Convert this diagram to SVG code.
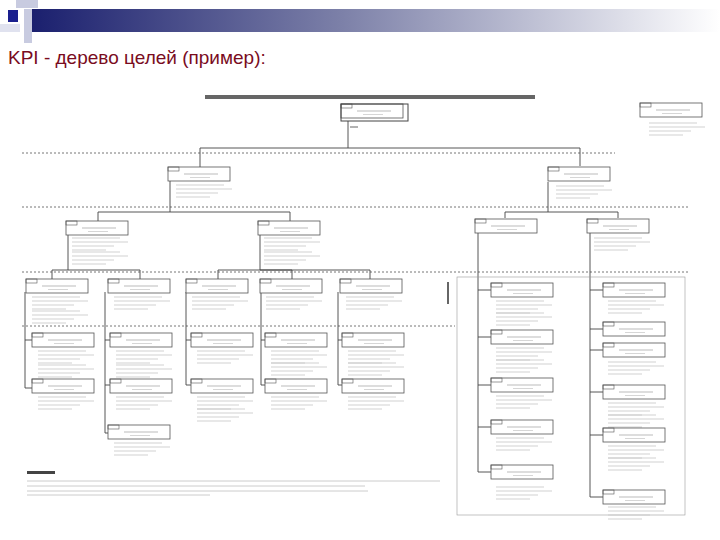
<svg xmlns="http://www.w3.org/2000/svg" width="720" height="540" viewBox="0 0 720 540">
<defs>
<linearGradient id="hb" x1="0" x2="1" y1="0" y2="0">
<stop offset="0" stop-color="#1a1f6e"/><stop offset="0.45" stop-color="#7c80a8"/><stop offset="1" stop-color="#ffffff"/>
</linearGradient>
<g id="n"><rect x="0" y="0" width="62" height="14" fill="#fff" stroke="#555" stroke-width="0.8"/><rect x="0" y="0" width="11" height="4" fill="none" stroke="#555" stroke-width="0.6"/><line x1="16" y1="7" x2="50" y2="7" stroke="#bbb" stroke-width="1"/><line x1="22" y1="10.5" x2="42" y2="10.5" stroke="#ccc" stroke-width="0.8"/></g>
<g id="t"><line x1="2" y1="0" x2="50" y2="0" stroke="#ccc" stroke-width="0.9"/><line x1="2" y1="4" x2="58" y2="4" stroke="#ccc" stroke-width="0.9"/><line x1="2" y1="8" x2="44" y2="8" stroke="#ccc" stroke-width="0.9"/><line x1="2" y1="12" x2="36" y2="12" stroke="#ccc" stroke-width="0.9"/></g>
</defs>
<style>.c{fill:none;stroke:#444;stroke-width:0.9}.d{stroke:#777;stroke-width:1;stroke-dasharray:2 2}.f{font-family:"Liberation Sans",Arial,sans-serif}</style>
<rect width="720" height="540" fill="#fff"/>
<g id="header">
<rect x="30" y="9" width="690" height="23" fill="url(#hb)"/>
<rect x="16" y="0" width="22" height="8" fill="#c8cbe0"/>
<rect x="24" y="9" width="8" height="34" fill="#c8cbe0"/>
<rect x="8" y="10" width="10" height="12" fill="#1a1f8e"/>
<rect x="0" y="24" width="20" height="8" fill="#e0e2ef"/>
</g>
<text class="f" x="8" y="64" font-size="19" fill="#7a0c1e">KPI - дерево целей (пример):</text>
<g id="diagram-title"><rect x="205" y="95" width="330" height="4" fill="#666"/></g>
<g id="separators">
<line class="d" x1="22" y1="153" x2="615" y2="153"/>
<line class="d" x1="22" y1="207" x2="690" y2="207"/>
<line class="d" x1="22" y1="272" x2="690" y2="272"/>
<line class="d" x1="22" y1="326" x2="455" y2="326"/>
</g>
<g id="connectors" class="c">
<path d="M348 121V148H200V167M348 148H580V166"/>
<path d="M170 180V212H98V221M170 212H290V221"/>
<path d="M68 234V270H52V279M68 270H140V279"/>
<path d="M260 234V270H218V279M260 270H292V279M260 270H370V279"/>
<path d="M548 182V212H505V218M548 212H618V218"/>
<path d="M25 292V388H32M25 340H32"/>
<path d="M105 292V433H108M105 340H110M105 385H110"/>
<path d="M186 292V385H191M186 340H191"/>
<path d="M261 292V385H265M261 340H265"/>
<path d="M338 292V385H342M338 340H342"/>
<path d="M478 233V472H491M478 290H491M478 337H491M478 385H491M478 427H491"/>
<path d="M590 233V497H603M590 290H603M590 329H603M590 350H603M590 392H603M590 435H603"/>
<rect x="457" y="277" width="228" height="238" stroke="#999" stroke-width="0.6"/>
</g>
<g id="root"><use href="#n" x="341" y="104"/><rect x="341" y="104" width="67" height="17" fill="none" stroke="#444"/><line x1="350" y1="127" x2="358" y2="127" stroke="#666"/></g>
<g id="legend"><use href="#n" x="640" y="103"/><use href="#t" x="647" y="123"/></g>
<g id="l2a"><use href="#n" x="168" y="167"/><use href="#t" x="174" y="185"/></g>
<g id="l2b"><use href="#n" x="548" y="167"/><use href="#t" x="554" y="186"/></g>
<g id="l3a"><use href="#n" x="66" y="221"/><use href="#t" x="70" y="238"/><use href="#t" x="70" y="252"/></g>
<g id="l3b"><use href="#n" x="258" y="221"/><use href="#t" x="262" y="238"/><use href="#t" x="262" y="252"/></g>
<g id="l3c"><use href="#n" x="475" y="219"/></g>
<g id="l3d"><use href="#n" x="587" y="219"/><use href="#t" x="592" y="238"/></g>
<g id="r4">
<use href="#n" x="26" y="279"/><use href="#t" x="30" y="297"/><use href="#t" x="30" y="311"/>
<use href="#n" x="108" y="279"/><use href="#t" x="112" y="297"/>
<use href="#n" x="186" y="279"/><use href="#t" x="190" y="297"/>
<use href="#n" x="260" y="279"/><use href="#t" x="264" y="297"/>
<use href="#n" x="340" y="279"/><use href="#t" x="344" y="297"/>
</g>
<g id="r5">
<use href="#n" x="32" y="333"/><use href="#t" x="36" y="351"/><use href="#t" x="36" y="365"/>
<use href="#n" x="110" y="333"/><use href="#t" x="114" y="351"/><use href="#t" x="114" y="365"/>
<use href="#n" x="191" y="333"/><use href="#t" x="195" y="351"/>
<use href="#n" x="265" y="333"/><use href="#t" x="269" y="351"/><use href="#t" x="269" y="363"/>
<use href="#n" x="342" y="333"/><use href="#t" x="346" y="351"/><use href="#t" x="346" y="363"/>
</g>
<g id="r6">
<use href="#n" x="32" y="379"/><use href="#t" x="36" y="397"/>
<use href="#n" x="110" y="379"/><use href="#t" x="114" y="397"/>
<use href="#n" x="191" y="379"/><use href="#t" x="195" y="397"/><use href="#t" x="195" y="409"/>
<use href="#n" x="265" y="379"/><use href="#t" x="269" y="397"/>
<use href="#n" x="342" y="379"/><use href="#t" x="346" y="397"/>
<use href="#n" x="108" y="425"/><use href="#t" x="112" y="443"/>
</g>
<g id="right">
<rect x="447" y="282" width="2" height="22" fill="#666"/>
<use href="#n" x="491" y="283"/><use href="#t" x="494" y="301"/><use href="#t" x="494" y="313"/>
<use href="#n" x="491" y="330"/><use href="#t" x="494" y="348"/><use href="#t" x="494" y="360"/>
<use href="#n" x="491" y="378"/><use href="#t" x="494" y="396"/>
<use href="#n" x="491" y="420"/><use href="#t" x="494" y="438"/>
<use href="#n" x="491" y="465"/><use href="#t" x="494" y="487"/>
<use href="#n" x="603" y="283"/><use href="#t" x="606" y="301"/>
<use href="#n" x="603" y="322"/>
<use href="#n" x="603" y="343"/><use href="#t" x="606" y="362"/>
<use href="#n" x="603" y="385"/><use href="#t" x="606" y="403"/><use href="#t" x="606" y="415"/>
<use href="#n" x="603" y="428"/><use href="#t" x="606" y="446"/><use href="#t" x="606" y="458"/>
<use href="#n" x="603" y="490"/><use href="#t" x="606" y="507"/>
</g>
<g id="notes">
<rect x="27" y="471" width="28" height="3" fill="#444"/>
<line x1="27" y1="481" x2="440" y2="481" stroke="#ccc"/>
<line x1="27" y1="486" x2="365" y2="486" stroke="#ccc"/>
<line x1="27" y1="491" x2="368" y2="491" stroke="#ccc"/>
<line x1="27" y1="495" x2="210" y2="495" stroke="#ccc"/>
</g>
</svg>
